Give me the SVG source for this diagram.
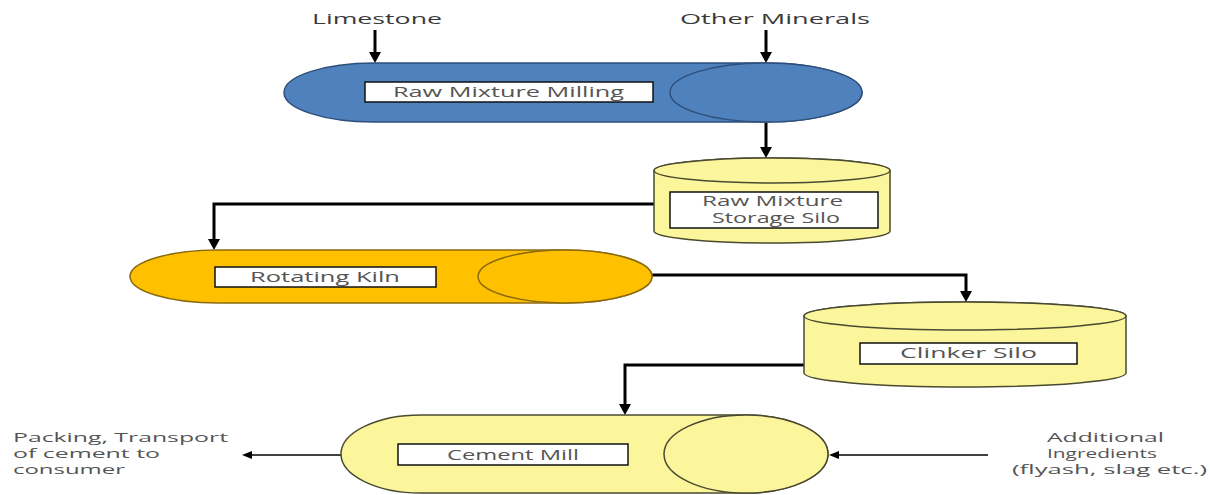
<svg xmlns="http://www.w3.org/2000/svg" width="1210" height="495" viewBox="0 0 1210 495">
<style>
.lbl{font-family:"Open Sans","Liberation Sans",sans-serif;font-size:15px;fill:#555555;}
.lbl2{font-family:"Open Sans","Liberation Sans",sans-serif;font-size:14px;fill:#555555;}
.top{font-family:"Open Sans","Liberation Sans",sans-serif;font-size:15px;fill:#3a3a3a;}
.side{font-family:"Open Sans","Liberation Sans",sans-serif;font-size:12px;fill:#555555;}
.box{fill:#ffffff;stroke:#111111;stroke-width:1.5;}
.blue{fill:#4f81bd;stroke:#2f4f7a;stroke-width:1.5;}
.orange{fill:#ffc000;stroke:#8a6a10;stroke-width:1.5;}
.yellow{fill:#fbf59c;stroke:#4a4a30;stroke-width:1.5;}
.conn{fill:none;stroke:#000000;stroke-width:3;}
.thin{fill:none;stroke:#000000;stroke-width:1.5;}
</style>
<defs>
<marker id="ah" markerUnits="userSpaceOnUse" markerWidth="12" markerHeight="12" viewBox="0 0 12 12" refX="3" refY="6" orient="auto">
<path d="M0,0 L11,6 L0,12 Z" fill="#000"/>
</marker>
<marker id="ahs" markerUnits="userSpaceOnUse" markerWidth="10" markerHeight="8" viewBox="0 0 10 8" refX="2" refY="4" orient="auto">
<path d="M0,0 L10,4 L0,8 Z" fill="#000"/>
</marker>
</defs>

<g id="connectors">
<path class="conn" d="M375,30 V55" marker-end="url(#ah)"/>
<path class="conn" d="M766,30 V55" marker-end="url(#ah)"/>
<path class="conn" d="M766,123 V150" marker-end="url(#ah)"/>
<path class="conn" d="M654,204 H214 V242" marker-end="url(#ah)"/>
<path class="conn" d="M652,275 H966 V294" marker-end="url(#ah)"/>
<path class="conn" d="M804,365 H625 V407" marker-end="url(#ah)"/>
<path class="thin" d="M341,455 H250" marker-end="url(#ahs)"/>
<path class="thin" d="M988,455 H837" marker-end="url(#ahs)"/>
</g>

<g id="limestone"><text class="top" x="312" y="24" textLength="130" lengthAdjust="spacingAndGlyphs">Limestone</text></g>
<g id="other-minerals"><text class="top" x="680" y="24" textLength="190" lengthAdjust="spacingAndGlyphs">Other Minerals</text></g>

<g id="raw-mixture-milling">
<path class="blue" d="M374,63 L766,63 A96 29.5 0 0 1 766,122 L374,122 A90 29.5 0 0 1 374,63 Z"/>
<ellipse class="blue" cx="766" cy="92.5" rx="96" ry="29.5"/>
<rect class="box" x="365" y="82" width="288" height="20"/>
<text class="lbl" x="393" y="97" textLength="231" lengthAdjust="spacingAndGlyphs">Raw Mixture Milling</text>
</g>

<g id="raw-mixture-storage-silo">
<path class="yellow" d="M654,170.5 L654,231 A118 12 0 0 0 890,231 L890,170.5 A118 12.5 0 0 0 654,170.5 Z"/>
<ellipse class="yellow" cx="772" cy="170.5" rx="118" ry="12.5"/>
<rect class="box" x="670" y="192" width="208" height="36"/>
<text class="lbl2" x="702" y="206" textLength="141" lengthAdjust="spacingAndGlyphs">Raw Mixture</text>
<text class="lbl2" x="712" y="223" textLength="128" lengthAdjust="spacingAndGlyphs">Storage Silo</text>
</g>

<g id="rotating-kiln">
<path class="orange" d="M218,250 L565,250 A87 26.5 0 0 1 565,303 L218,303 A88 26.5 0 0 1 218,250 Z"/>
<ellipse class="orange" cx="565" cy="276.5" rx="87" ry="26.5"/>
<rect class="box" x="215" y="267" width="221" height="20"/>
<text class="lbl" x="250" y="282" textLength="150" lengthAdjust="spacingAndGlyphs">Rotating Kiln</text>
</g>

<g id="clinker-silo">
<path class="yellow" d="M804,316 L804,373 A161 14 0 0 0 1126,373 L1126,316 A161 14 0 0 0 804,316 Z"/>
<ellipse class="yellow" cx="965" cy="316" rx="161" ry="14"/>
<rect class="box" x="860" y="343" width="217" height="21"/>
<text class="lbl" x="900" y="358" textLength="137" lengthAdjust="spacingAndGlyphs">Clinker Silo</text>
</g>

<g id="cement-mill">
<path class="yellow" d="M421,415 L746,415 A82 39 0 0 1 746,493 L421,493 A80 39 0 0 1 421,415 Z"/>
<ellipse class="yellow" cx="746" cy="454" rx="82" ry="39"/>
<rect class="box" x="398" y="444" width="230" height="21"/>
<text class="lbl" x="447" y="460" textLength="132" lengthAdjust="spacingAndGlyphs">Cement Mill</text>
</g>

<g id="packing">
<text class="side" x="13" y="442" textLength="215" lengthAdjust="spacingAndGlyphs">Packing, Transport</text>
<text class="side" x="13" y="458" textLength="147" lengthAdjust="spacingAndGlyphs">of cement to</text>
<text class="side" x="13" y="474" textLength="112" lengthAdjust="spacingAndGlyphs">consumer</text>
</g>

<g id="additional-ingredients">
<text class="side" x="1047" y="442" textLength="117" lengthAdjust="spacingAndGlyphs">Additional</text>
<text class="side" x="1047" y="458" textLength="110" lengthAdjust="spacingAndGlyphs">Ingredients</text>
<text class="side" x="1012" y="474" textLength="195" lengthAdjust="spacingAndGlyphs">(flyash, slag etc.)</text>
</g>
</svg>
